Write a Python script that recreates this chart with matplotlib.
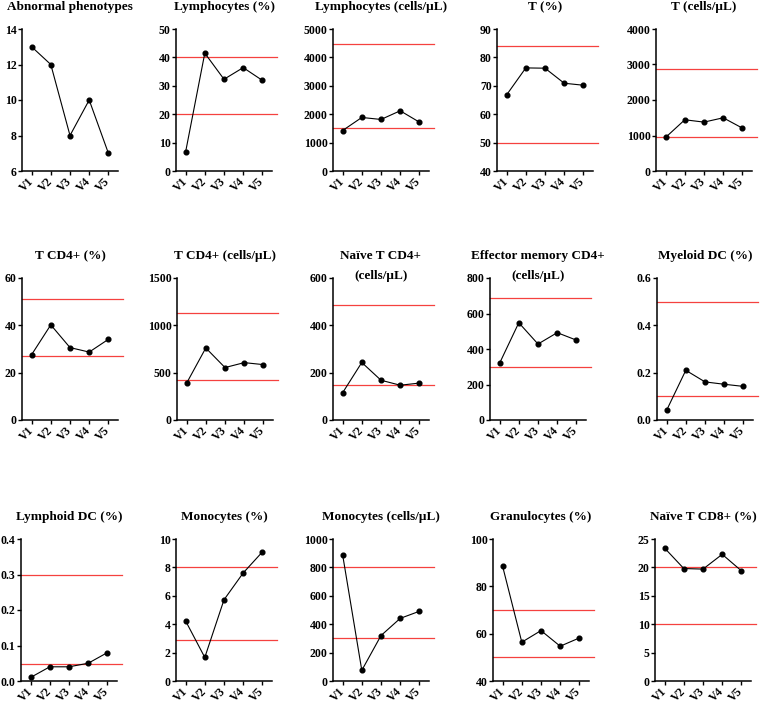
import numpy as np
import matplotlib
matplotlib.use('Agg')
import matplotlib.pyplot as plt

plt.rcParams['font.family'] = ['Liberation Serif', 'DejaVu Serif']
plt.rcParams['font.weight'] = 'bold'

# 数据
visits = ['V1', 'V2', 'V3', 'V4', 'V5']

titles = ['Abnormal phenotypes', 'Lymphocytes (%)', 'Lymphocytes (cells/µL)', 'T (%)', 'T (cells/µL)',
          'T CD4+ (%)', 'T CD4+ (cells/µL)', 'Naïve T CD4+\n(cells/µL)', 'Effector memory CD4+\n(cells/µL)', 'Myeloid DC (%)',
          'Lymphoid DC (%)', 'Monocytes (%)', 'Monocytes (cells/µL)', 'Granulocytes (%)', 'Naïve T CD8+ (%)']

y_min = [6, 0, 0, 40, 0,
         0, 0, 0, 0, 0,
         0, 0, 0, 40, 0]
y_max = [14, 50, 5000, 90, 4000,
         60, 1500, 600, 800, 0.6,
         0.4, 10, 1000, 100, 25]
y_step = [2, 10, 1000, 10, 1000,
          20, 500, 200, 200, 0.2,
          0.1, 2, 200, 20, 5]

values = [
    [13, 12, 8, 10, 7],
    [6.7, 41.5, 32.3, 36.4, 31.9],
    [1425, 1885, 1815, 2120, 1720],
    [66.8, 76.3, 76.2, 70.9, 70.2],
    [946, 1443, 1377, 1499, 1208],
    [27.6, 40.2, 30.6, 28.7, 34.1],
    [389, 761, 554, 606, 585],
    [115, 243, 168, 147, 156],
    [320, 548, 428, 492, 450],
    [0.041, 0.21, 0.161, 0.151, 0.142],
    [0.01, 0.04, 0.04, 0.05, 0.08],
    [4.23, 1.66, 5.72, 7.61, 9.09],
    [890, 75, 320, 441, 491],
    [88.5, 56.4, 61.3, 54.7, 58.2],
    [23.4, 19.8, 19.7, 22.3, 19.4],
]

# 参考范围（红线）
ref_lines = [
    [],
    [20, 40],
    [1500, 4480],
    [50, 84],
    [965, 2885],
    [27, 51.2],
    [421, 1129],
    [150, 486],
    [297, 686],
    [0.1, 0.5],
    [0.047, 0.3],
    [2.92, 8.04],
    [300, 800],
    [50, 70],
    [10, 20.1],
]

# 布局（像素）
W, H = 767, 704
col_left = [[22, 176, 333, 497, 656],
            [22, 177, 333, 490, 657],
            [21, 176, 333, 493, 655]]
row_bottom = [171, 420, 681]
ax_w, ax_h = 96, 142

fig = plt.figure(figsize=(W / 100, H / 100), dpi=100)

for i in range(15):
    r, c = divmod(i, 5)
    ax = fig.add_axes([col_left[r][c] / W, 1 - row_bottom[r] / H, ax_w / W, ax_h / H])
    x = np.arange(1, 6)

    # 参考线
    for v in ref_lines[i]:
        ax.plot([0.5, 5.75], [v, v], color='#f5413f', lw=0.9, clip_on=False, zorder=1)

    ax.plot(x, values[i], '-o', color='black', lw=0.8, ms=3.4, clip_on=False, zorder=3)

    ax.set_xlim(0.5, 5.5)
    ax.set_ylim(y_min[i], y_max[i])
    ticks = np.arange(y_min[i], y_max[i] + y_step[i] / 2, y_step[i])
    ax.set_yticks(ticks)
    if y_step[i] < 1:
        ax.set_yticklabels(['%.1f' % t for t in ticks])
    else:
        ax.set_yticklabels(['%d' % t for t in ticks])
    ax.set_xticks(x)
    ax.set_xticklabels(visits, rotation=45, ha='right', va='center', rotation_mode='anchor')

    for s in ['top', 'right']:
        ax.spines[s].set_visible(False)
    for s in ['left', 'bottom']:
        ax.spines[s].set_linewidth(1.1)
    ax.tick_params(axis='y', direction='out', length=2.6, width=1.0, pad=1.2, labelsize=8.5)
    ax.tick_params(axis='x', direction='out', length=3.2, width=1.0, pad=3, labelsize=8.5)
    for lbl in ax.get_xticklabels() + ax.get_yticklabels():
        lbl.set_fontweight('bold')

    # 标题（两行标题逐行放置）
    for k, line in enumerate(titles[i].split('\n')):
        ax.text(0.5, 1 + (28 - 20 * k) / ax_h, line, transform=ax.transAxes, ha='center', va='top',
                fontsize=9.5, fontweight='bold')

fig.savefig('out.png', dpi=100)
